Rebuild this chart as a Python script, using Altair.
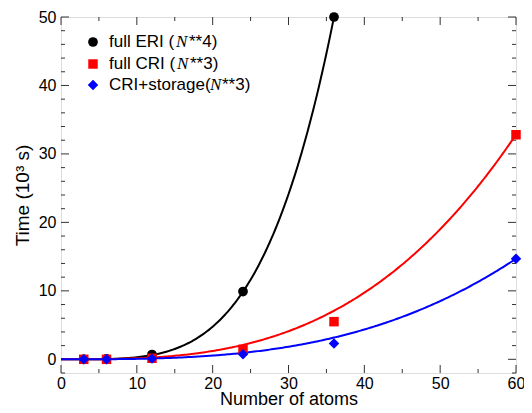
import altair as alt
import pandas as pd

# ---- data ----
atoms = [3, 6, 12, 24, 36, 60]
eri_atoms = [3, 6, 12, 24, 36]
eri_time = [0.0, 0.05, 0.7, 9.9, 50.0]
cri_time = [0.0, 0.0, 0.15, 1.45, 5.5, 32.8]
sto_time = [0.0, 0.0, 0.1, 0.75, 2.3, 14.7]

# fitted curves  t = c * N**p  (coefficients from the plotted fit lines)
fit_names = ["eri", "cri", "sto"]
fit_coef = [2.977e-5, 1.52e-4, 6.8e-5]
fit_power = [4, 3, 3]
fit_end = [36, 60, 60]

series_colors = ["#000000", "#ff0000", "#0000ff"]
series_shapes = ["circle", "square", "diamond"]

legend_prefix = ["full ERI (", "full CRI (", "CRI+storage("]
legend_suffix = ["**4)", "**3)", "**3)"]

x_major = [0, 10, 20, 30, 40, 50, 60]
x_minor = [5, 15, 25, 35, 45, 55]
y_major = [0, 10, 20, 30, 40, 50]
y_minor = [v for v in range(-2, 50, 2) if v % 10 != 0]

W, H = 455, 356
FONT = "Liberation Sans"

xs = alt.Scale(domain=[0, 60], nice=False, zero=False)
ys = alt.Scale(domain=[-2, 50], nice=False, zero=False)
x_axis = alt.Axis(values=x_major, title="Number of atoms", labelFontSize=16,
                  titleFontSize=18, labelPadding=2, titleBaseline="alphabetic",
                  titleY=31, titleX=W / 2,
                  ticks=False, domain=False, grid=False, labelFont=FONT,
                  titleFont=FONT, titleFontWeight="normal", labelColor="black",
                  titleColor="black", labelFlush=False)
y_axis = alt.Axis(values=y_major, title="Time (10³ s)", labelFontSize=16,
                  titleFontSize=19, labelPadding=5, titlePadding=6,
                  ticks=False, domain=False, grid=False, labelFont=FONT,
                  titleFont=FONT, titleFontWeight="normal", labelColor="black",
                  titleColor="black", labelFlush=False)

def X(field="n"):
    return alt.X(f"{field}:Q", scale=xs, axis=x_axis)

def Y(field="t"):
    return alt.Y(f"{field}:Q", scale=ys, axis=y_axis)

layers = []

# tick marks (inward, all four sides)
ymaj = pd.DataFrame({"t": y_major})
ymin = pd.DataFrame({"t": y_minor})
xmaj = pd.DataFrame({"n": x_major})
xmin = pd.DataFrame({"n": x_minor})
tick_col = "#333333"
for df, L in [(ymaj, 8), (ymin, 4)]:
    layers.append(alt.Chart(df).mark_rule(color=tick_col, strokeWidth=1).encode(
        y=Y(), x=alt.value(0), x2=alt.value(L)))
    layers.append(alt.Chart(df).mark_rule(color=tick_col, strokeWidth=1).encode(
        y=Y(), x=alt.value(W), x2=alt.value(W - L)))
for df, L in [(xmaj, 8), (xmin, 4)]:
    layers.append(alt.Chart(df).mark_rule(color=tick_col, strokeWidth=1).encode(
        x=X(), y=alt.value(H), y2=alt.value(H - L)))
    layers.append(alt.Chart(df).mark_rule(color=tick_col, strokeWidth=1).encode(
        x=X(), y=alt.value(0), y2=alt.value(L)))

# fitted curves
for name, c, p, e, col in zip(fit_names, fit_coef, fit_power, fit_end, series_colors):
    layers.append(
        alt.Chart(alt.sequence(0, e + 0.001, 0.25, as_="n"))
        .transform_calculate(t=f"{c} * pow(datum.n, {p})")
        .mark_line(color=col, strokeWidth=2, clip=True)
        .encode(x=X(), y=Y())
    )

# data points
pts = [
    pd.DataFrame({"n": eri_atoms, "t": eri_time}),
    pd.DataFrame({"n": atoms, "t": cri_time}),
    pd.DataFrame({"n": atoms, "t": sto_time}),
]
sizes = [95, 90, 110]
for df, col, shp, sz in zip(pts, series_colors, series_shapes, sizes):
    layers.append(alt.Chart(df).mark_point(filled=True, color=col, shape=shp,
                                           size=sz, opacity=1).encode(x=X(), y=Y()))

# manual legend
one = pd.DataFrame({"a": [0]})
leg_y = [25, 47, 68]
n_x = [115, 116, 149]
suf_x = [128, 129, 161]
for i in range(3):
    layers.append(alt.Chart(one).mark_point(filled=True, color=series_colors[i],
                                            shape=series_shapes[i], size=sizes[i],
                                            opacity=1).encode(
        x=alt.value(32), y=alt.value(leg_y[i])))
    layers.append(alt.Chart(one).mark_text(text=legend_prefix[i], align="left",
                                           baseline="middle", font=FONT, fontSize=17,
                                           color="black").encode(
        x=alt.value(48), y=alt.value(leg_y[i])))
    layers.append(alt.Chart(one).mark_text(text="N", align="left", baseline="middle",
                                           font="Liberation Serif", fontStyle="italic",
                                           fontSize=17, color="black").encode(
        x=alt.value(n_x[i]), y=alt.value(leg_y[i])))
    layers.append(alt.Chart(one).mark_text(text=legend_suffix[i], align="left",
                                           baseline="middle", font=FONT, fontSize=17,
                                           color="black").encode(
        x=alt.value(suf_x[i]), y=alt.value(leg_y[i])))

chart = (
    alt.layer(*layers)
    .properties(width=W, height=H,
                autosize=alt.AutoSizeParams(type="none"),
                padding={"left": 53, "top": 9, "right": 8, "bottom": 32})
    .configure_view(stroke="black", strokeWidth=1.5)
    .configure(background="white")
)

chart.save("out.html", embed_options={"renderer": "svg", "actions": False})
